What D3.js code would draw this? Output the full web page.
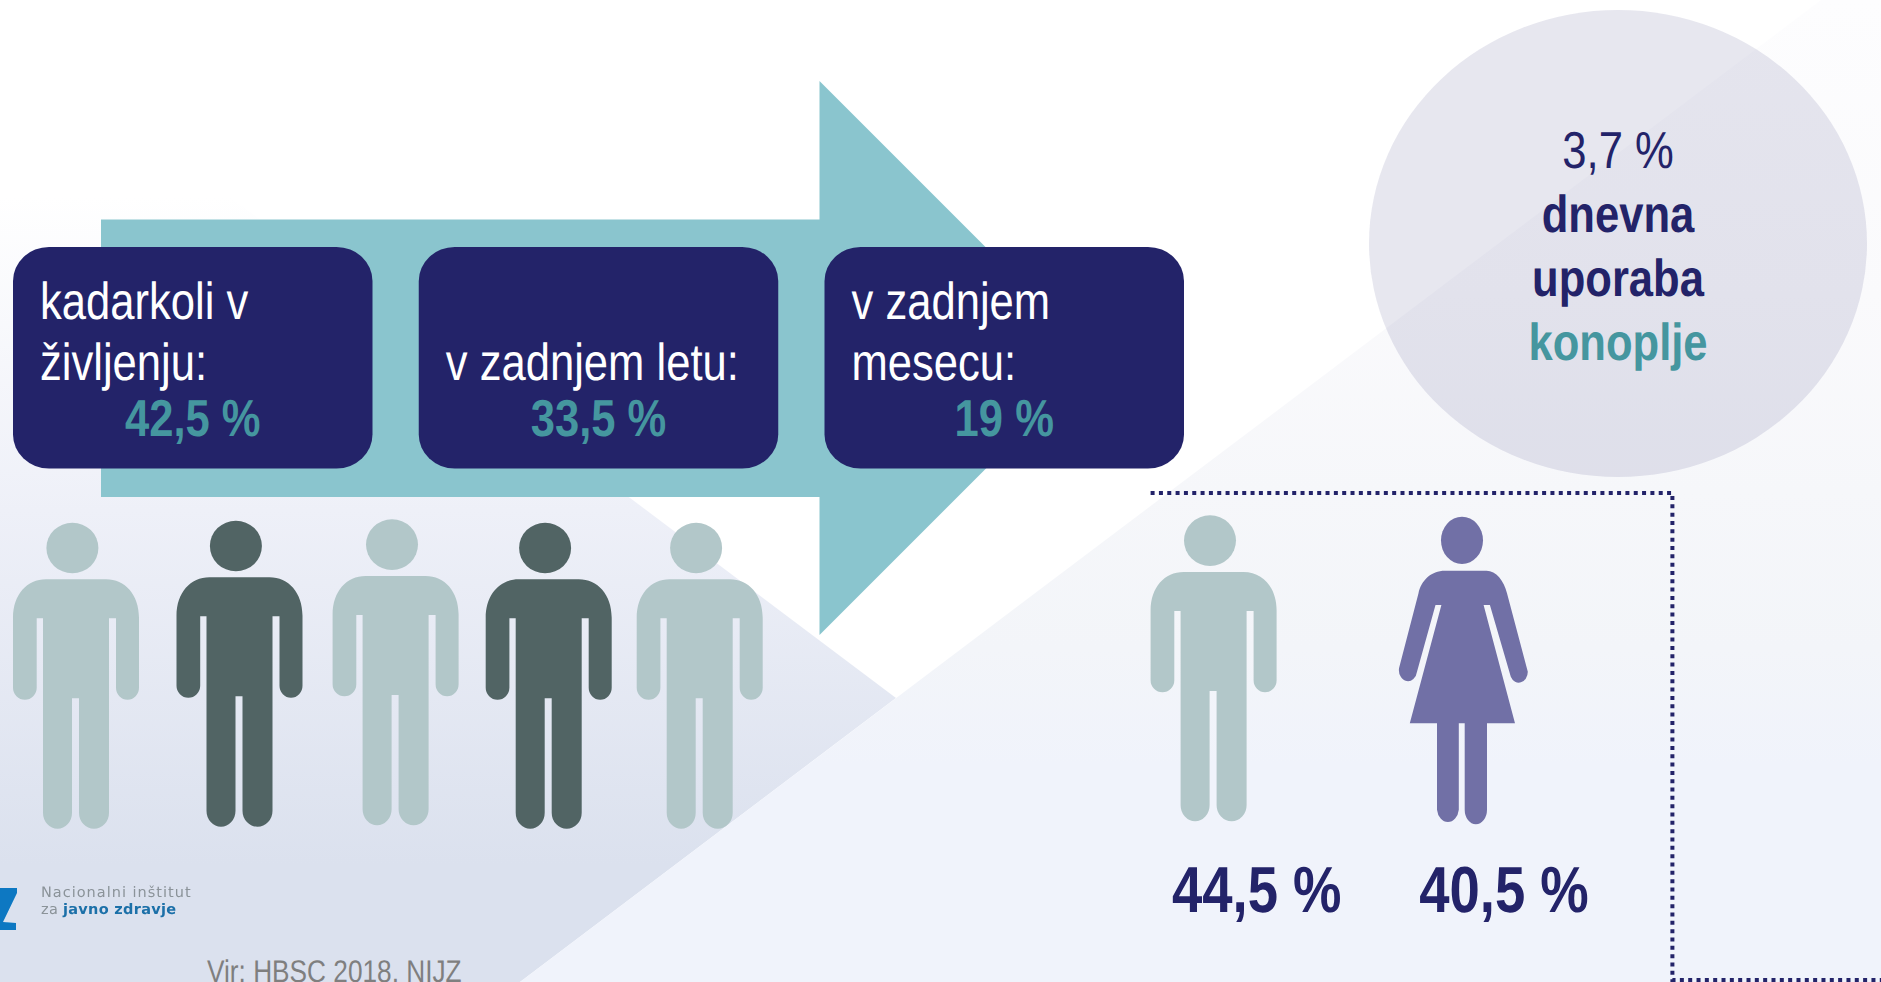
<!DOCTYPE html>
<html>
<head>
<meta charset="utf-8">
<script src="https://cdn.jsdelivr.net/npm/d3@7"></script>
<style>
  body { margin: 0; background: #fff; overflow: hidden; }
  svg { display: block; }
  text { font-family: "Liberation Sans", Arial, sans-serif; text-rendering: geometricPrecision; }
  .logo text { font-family: "DejaVu Sans", sans-serif; }
</style>
</head>
<body>
<svg id="chart" width="1881" height="982"></svg>
<script>
// values
const periodLabels = [["kadarkoli v", "življenju:"], ["v zadnjem letu:"], ["v zadnjem", "mesecu:"]];
const periodValues = [42.5, 33.5, 19];
const crowdTones = ["light", "dark", "light", "dark", "light"];
const genderValues = [44.5, 40.5];
const dailyUseValue = 3.7;
const dailyUseWords = ["dnevna", "uporaba", "konoplje"];
const sourceNote = "Vir: HBSC 2018, NIJZ";
const logoLines = ["Nacionalni inštitut", "za ", "javno zdravje"];

const navy = "#232369", teal = "#45969f", arrowFill = "#8ac5ce";
const tones = {light: "#b2c7c9", dark: "#516464"};
const squeeze = 0.838; // source picture is stretched, the type comes out condensed

const svg = d3.select("#chart");
const pct = d3.formatLocale({decimal: ",", thousands: ".", grouping: [3], currency: ["", " €"]})
  .format(".3~r");
const pctLabel = d => pct(d) + " %";

function narrow_text(parent, x, y, size, weight, fill, anchor, str) {
  return parent.append("text")
    .attr("transform", `translate(${x},${y}) scale(${squeeze},1)`)
    .attr("font-size", size)
    .attr("font-weight", weight)
    .attr("fill", fill)
    .attr("text-anchor", anchor)
    .text(str);
}

function add_stops(gradient, stops) {
  gradient.selectAll("stop").data(stops).enter().append("stop")
    .attr("offset", d => d[0])
    .attr("stop-color", d => d[1]);
}

function draw_background() {
  let defs = svg.append("defs");

  let left = defs.append("linearGradient").attr("id", "bg-left")
    .attr("gradientUnits", "userSpaceOnUse")
    .attr("x1", 0).attr("x2", 0).attr("y1", 0).attr("y2", 982);
  add_stops(left, [[0.2, "#ffffff"], [0.52, "#eef0f8"], [0.88, "#dbe1ee"]]);

  let right = defs.append("linearGradient").attr("id", "bg-right")
    .attr("gradientUnits", "userSpaceOnUse")
    .attr("x1", 0).attr("x2", 0).attr("y1", 0).attr("y2", 982);
  add_stops(right, [[0, "#fdfdfe"], [0.3, "#fafafc"], [0.5, "#f6f7fa"], [0.66, "#f3f5f9"], [0.78, "#f0f3fb"]]);

  defs.append("filter").attr("id", "soft")
    .append("feGaussianBlur").attr("stdDeviation", 0.6);

  let outline = d3.line();
  svg.append("path").attr("fill", "url(#bg-left)")
    .attr("d", outline([[0, 24], [896, 698], [520, 982], [0, 982]]) + "Z");
  svg.append("path").attr("fill", "url(#bg-right)")
    .attr("d", outline([[520, 982], [1821, 0], [1881, 0], [1881, 982]]) + "Z");
}

function draw_arrow() {
  let outline = d3.line();
  svg.append("path").attr("fill", arrowFill)
    .attr("d", outline([[101, 219.5], [819.5, 219.5], [819.5, 81], [1096.5, 358],
      [819.5, 635], [819.5, 497], [101, 497]]) + "Z");
}

function draw_period_boxes() {
  let x = d3.scaleBand().domain(d3.range(periodValues.length))
    .range([13, 1184]).paddingInner(0.114);

  let box = svg.append("g").selectAll("g")
    .data(periodValues).enter().append("g");

  box.append("rect")
    .attr("x", (d, i) => x(i)).attr("y", 247)
    .attr("width", x.bandwidth()).attr("height", 221.5)
    .attr("rx", 36).attr("ry", 34)
    .attr("fill", navy);

  box.each(function(d, i) {
    let g = d3.select(this),
        lines = periodLabels[i];
    lines.forEach((line, k) => {
      narrow_text(g, x(i) + 27, 380 - (lines.length - 1 - k) * 61, 52, 400, "#fff", "start", line);
    });
    narrow_text(g, x(i) + x.bandwidth() / 2, 436, 52, 700, teal, "middle", pctLabel(d));
  });
}

// person pictogram, origin at top left of its box
const manBody = "M0,95 C0,72 14,56.6 33,56.6 L93,56.6 C112,56.6 126,72 126,95 L126,165 " +
  "A11.5,12 0 0 1 103,165 L103,95.6 L96,95.6 L96,290 A15,16 0 0 1 66,290 L66,175.6 L59,175.6 " +
  "L59,290 A14.5,16 0 0 1 30,290 L30,95.6 L23.7,95.6 L23.7,165 A11.85,12 0 0 1 0,165 Z";
const womanBody = "M46,54 L87.5,54 C97,54 105,64 108,76.6 L128.8,155 A9,11 0 0 1 111.8,160 " +
  "L90.9,88.3 L84.6,88.3 L116,206.6 L88,206.6 L88,293 A11,14.3 0 0 1 65.7,293 L65.7,206.6 " +
  "L59.8,206.6 L59.8,293 A11,14.3 0 0 1 38,293 L38,206.6 L10.8,206.6 L42.4,88.3 L36.5,88.3 " +
  "L18,155 A9,11 0 0 1 0,151.6 L19.5,76.6 C22,64 32,54 46,54 Z";

function draw_man(parent, x, y, fill) {
  let g = parent.append("g").attr("transform", `translate(${x},${y})`).attr("fill", fill);
  g.append("ellipse").attr("cx", 59.4).attr("cy", 25.3).attr("rx", 26).attr("ry", 25.3);
  g.append("path").attr("d", manBody);
}

function draw_woman(parent, x, y, fill) {
  let g = parent.append("g").attr("transform", `translate(${x},${y})`).attr("fill", fill);
  g.append("ellipse").attr("cx", 63).attr("cy", 23.65).attr("rx", 21).attr("ry", 23.65);
  g.append("path").attr("d", womanBody);
}

function draw_crowd() {
  let ids = d3.range(crowdTones.length);
  let x = d3.scaleOrdinal().domain(ids).range([13, 176.5, 332.6, 485.7, 636.7]);
  let y = d3.scaleOrdinal().domain(ids).range([522.7, 520.7, 519.3, 522.7, 522.7]);
  let g = svg.append("g");
  crowdTones.forEach((t, i) => draw_man(g, x(i), y(i), tones[t]));
}

function draw_gender_panel() {
  let line = d3.line();
  svg.append("path")
    .attr("d", line([[1150.6, 493], [1672.4, 493], [1672.4, 980], [1881, 980]]))
    .attr("fill", "none")
    .attr("stroke", navy)
    .attr("stroke-width", 4)
    .attr("stroke-dasharray", "4 4.33");

  let g = svg.append("g");
  draw_man(g, 1150.6, 515.3, tones.light);
  draw_woman(g, 1399, 516.7, "#7170a6");

  let x = d3.scaleOrdinal().domain([0, 1]).range([1256.7, 1504]);
  genderValues.forEach((v, i) => narrow_text(g, x(i), 911.7, 65, 700, navy, "middle", pctLabel(v)));
}

function draw_daily_circle() {
  let cx = 1618;
  svg.append("ellipse")
    .attr("cx", cx).attr("cy", 243.5).attr("rx", 249).attr("ry", 233.5)
    .attr("fill", navy).attr("fill-opacity", 0.11);

  let g = svg.append("g");
  narrow_text(g, cx, 168, 52, 400, navy, "middle", pctLabel(dailyUseValue));
  let y = d3.scaleOrdinal().domain(dailyUseWords).range([231.7, 296, 360]);
  dailyUseWords.forEach((w, i) => {
    narrow_text(g, cx, y(w), 52, 700, i == 2 ? teal : navy, "middle", w);
  });
}

function draw_footer() {
  let g = svg.append("g").attr("class", "logo").attr("filter", "url(#soft)");
  g.append("path").attr("fill", "#0a78c2")
    .attr("d", d3.line()([[0, 888], [17, 888], [17, 893], [3, 922], [16, 923], [16, 930], [0, 930]]) + "Z");
  g.append("text").attr("x", 41).attr("y", 897)
    .attr("font-size", 14.5).attr("letter-spacing", 1).attr("fill", "#8b9399")
    .text(logoLines[0]);
  let t = g.append("text").attr("x", 41).attr("y", 914)
    .attr("font-size", 14.5).attr("letter-spacing", 0.3).attr("fill", "#8b9399");
  t.append("tspan").text(logoLines[1]);
  t.append("tspan").attr("font-weight", 700).attr("fill", "#1a6fa8").text(logoLines[2]);

  narrow_text(svg, 207, 982, 31.3, 400, "#7f7f7f", "start", sourceNote);
}

draw_background();
draw_arrow();
draw_period_boxes();
draw_crowd();
draw_gender_panel();
draw_daily_circle();
draw_footer();
</script>
</body>
</html>
